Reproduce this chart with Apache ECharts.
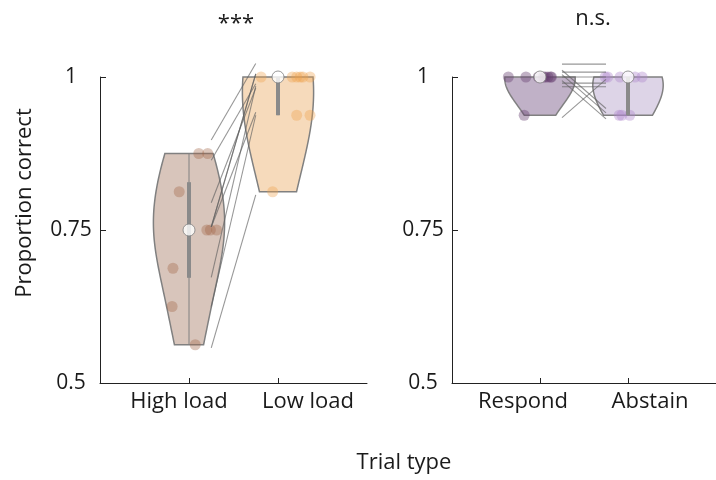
<!DOCTYPE html>
<html>
<head>
<meta charset="utf-8">
<script src="https://cdn.jsdelivr.net/npm/echarts@6/dist/echarts.min.js"></script>
<style>
  html, body { margin: 0; padding: 0; background: #ffffff; }
  #chart { width: 716px; height: 480px; }
</style>
</head>
<body>
<div id="chart"></div>
<script>
// Trial-type labels of the two panels
const loadCategories = ['High load', 'Low load'];
const responseCategories = ['Respond', 'Abstain'];

// Proportion correct per participant (same participant order within a panel)
const highLoad = [0.875, 0.875, 0.8125, 0.75, 0.75, 0.75, 0.6875, 0.625, 0.5625];
const lowLoad  = [1, 1, 1, 1, 1, 0.9375, 1, 0.9375, 0.8125];
const respond  = [1, 1, 1, 1, 1, 1, 1, 1, 0.9375];
const abstain  = [1, 1, 1, 1, 1, 0.9375, 0.9375, 0.9375, 1];

// Horizontal scatter of each dot around its category centre (x units)
const highLoadJitter = [0.11, 0.21, -0.11, 0.2, 0.24, 0.31, -0.18, -0.19, 0.07];
const lowLoadJitter  = [-0.19, 0.16, 0.21, 0.25, 0.28, 0.21, 0.36, 0.36, -0.06];
const respondJitter  = [-0.36, -0.16, -0.02, 0.06, 0.09, 0.12, 0.13, 0.04, -0.18];
const abstainJitter  = [-0.26, -0.09, 0.0, 0.08, 0.16, -0.1, -0.07, 0.02, -0.23];

// Small vertical offsets that keep the paired lines apart
const loadLineOffset     = [0.022, -0.011, -0.018, 0.005, 0.005, 0.005, -0.015, 0, -0.005];
const responseLineOffset = [0.021, 0.008, 0, -0.01, -0.016, 0.011, 0.004, -0.006, -0.004];

// Y axis ticks
const yTicks = [0.5, 0.75, 1];

const FONT = '"Open Sans", "Noto Sans", sans-serif';
const GREY = '#808080';
const TEXT = '#1a1a1a';
const VIOLIN_WIDTH = 0.4;

// ---------- statistics helpers ----------
function sortNum(a) { return a.slice().sort((p, q) => p - q); }
function mean(a) { return a.reduce((s, v) => s + v, 0) / a.length; }
function median(a) {
  const s = sortNum(a), n = s.length;
  return n % 2 ? s[(n - 1) / 2] : (s[n / 2 - 1] + s[n / 2]) / 2;
}
function quantile(a, p) {
  const s = sortNum(a), n = s.length;
  const pos = n * p + 0.5;
  if (pos <= 1) return s[0];
  if (pos >= n) return s[n - 1];
  const lo = Math.floor(pos), f = pos - lo;
  return s[lo - 1] + f * (s[lo] - s[lo - 1]);
}
// Normal-reference bandwidth on a robust spread estimate
// (larger of the median- and mean-based absolute deviations; range as fallback)
function kdeBandwidth(a) {
  const med = median(a), mu = mean(a);
  const madMed = median(a.map(v => Math.abs(v - med)));
  const madMean = mean(a.map(v => Math.abs(v - mu)));
  let sig = Math.max(madMed, madMean) / 0.6745;
  if (madMed <= 0) sig = Math.max(sig, Math.max(...a) - Math.min(...a));
  return sig * Math.pow(4 / (3 * a.length), 0.2);
}
function violinProfile(a) {
  const h = kdeBandwidth(a);
  const lo = Math.min(...a), hi = Math.max(...a);
  const steps = 60, prof = [];
  for (let i = 0; i <= steps; i++) {
    const y = lo + (hi - lo) * i / steps;
    let d = 0;
    a.forEach(v => { const u = (y - v) / h; d += Math.exp(-0.5 * u * u); });
    prof.push([y, d]);
  }
  const m = Math.max(...prof.map(p => p[1]));
  return prof.map(p => [p[0], p[1] / m * VIOLIN_WIDTH]);
}
function boxStats(a) {
  const q1 = quantile(a, 0.25), q3 = quantile(a, 0.75), iqr = q3 - q1;
  const loW = Math.min(...a.filter(v => v >= q1 - 1.5 * iqr));
  const hiW = Math.max(...a.filter(v => v <= q3 + 1.5 * iqr));
  return { q1, q3, med: median(a), loW, hiW };
}

// ---------- panel description ----------
const panels = [
  {
    cats: loadCategories,
    groups: [
      { values: highLoad, jitter: highLoadJitter, fill: '#d8c5bb', dot: 'rgba(160,100,70,0.45)' },
      { values: lowLoad,  jitter: lowLoadJitter,  fill: '#f6dabb', dot: 'rgba(238,160,75,0.45)' }
    ],
    offsets: loadLineOffset,
    labelPad: [[0, 20, 0, 0], [0, 0, 0, 60]]
  },
  {
    cats: responseCategories,
    groups: [
      { values: respond, jitter: respondJitter, fill: '#c0b1c7', dot: 'rgba(100,60,110,0.5)' },
      { values: abstain, jitter: abstainJitter, fill: '#ddd4e7', dot: 'rgba(175,135,205,0.5)' }
    ],
    offsets: responseLineOffset,
    labelPad: [[0, 34, 0, 0], [0, 0, 0, 44]]
  }
];

const grids = [
  { left: 100, top: 77, width: 267, height: 306 },
  { left: 452, top: 77, width: 268, height: 306 }
];

const xAxes = [], yAxes = [], series = [];

panels.forEach((panel, pi) => {
  const rich = {};
  panel.cats.forEach((c, ci) => {
    rich['c' + ci] = { fontFamily: FONT, fontSize: 22, color: TEXT, padding: panel.labelPad[ci] };
  });
  xAxes.push({
    type: 'value', gridIndex: pi, min: 0, max: 3,
    axisLine: { show: true, onZero: false, lineStyle: { color: '#222', width: 1 } },
    axisTick: { show: true, inside: true, length: 5, customValues: [1, 2], lineStyle: { color: '#222' } },
    axisLabel: {
      customValues: [1, 2], margin: 8,
      formatter: v => '{c' + (v - 1) + '|' + panel.cats[v - 1] + '}',
      rich: rich
    },
    splitLine: { show: false }
  });
  yAxes.push({
    type: 'value', gridIndex: pi, min: 0.5, max: 1, interval: 0.25,
    axisLine: { show: true, onZero: false, lineStyle: { color: '#222', width: 1 } },
    axisTick: { show: true, inside: true, length: 6, lineStyle: { color: '#222' } },
    axisLabel: {
      margin: pi === 0 ? 29 : 29, align: 'center',
      fontFamily: FONT, fontSize: 21, color: TEXT,
      formatter: v => String(v)
    },
    splitLine: { show: false }
  });

  const prof = panel.groups.map(g => violinProfile(g.values));
  const stats = panel.groups.map(g => boxStats(g.values));

  // violin bodies
  series.push({
    type: 'custom', xAxisIndex: pi, yAxisIndex: pi, z: 1, clip: false,
    data: panel.groups.map((g, gi) => [gi + 1, stats[gi].med]),
    renderItem: (params, api) => {
      const gi = params.dataIndex, x0 = gi + 1, p = prof[gi];
      const pts = [];
      p.forEach(([y, w]) => pts.push(api.coord([x0 + w, y])));
      for (let i = p.length - 1; i >= 0; i--) pts.push(api.coord([x0 - p[i][1], p[i][0]]));
      return {
        type: 'polygon', shape: { points: pts },
        style: { fill: panel.groups[gi].fill, stroke: GREY, lineWidth: 1.5 }
      };
    }
  });

  // individual participants
  panel.groups.forEach((g, gi) => {
    series.push({
      type: 'scatter', xAxisIndex: pi, yAxisIndex: pi, z: 2, clip: false,
      symbolSize: 11, silent: true,
      itemStyle: { color: g.dot, borderWidth: 0 },
      data: g.values.map((v, k) => [gi + 1 + g.jitter[k], v])
    });
  });

  // whiskers and interquartile bars
  series.push({
    type: 'custom', xAxisIndex: pi, yAxisIndex: pi, z: 3, clip: false,
    data: stats.map((s, gi) => [gi + 1, s.med]),
    renderItem: (params, api) => {
      const gi = params.dataIndex, s = stats[gi], x0 = gi + 1;
      const w1 = api.coord([x0, s.loW]), w2 = api.coord([x0, s.hiW]);
      const b1 = api.coord([x0, s.q1]), b2 = api.coord([x0, s.q3]);
      return {
        type: 'group', children: [
          { type: 'line', shape: { x1: w1[0], y1: w1[1], x2: w2[0], y2: w2[1] }, style: { stroke: GREY, lineWidth: 1 } },
          { type: 'line', shape: { x1: b1[0], y1: b1[1], x2: b2[0], y2: b2[1] }, style: { stroke: '#8a8a8a', lineWidth: 4 } }
        ]
      };
    }
  });

  // lines joining each participant across conditions
  const a = panel.groups[0].values, b = panel.groups[1].values;
  series.push({
    type: 'custom', xAxisIndex: pi, yAxisIndex: pi, z: 4, clip: false,
    data: a.map((v, k) => [1.25, v + panel.offsets[k], 1.75, b[k] + panel.offsets[k]]),
    renderItem: (params, api) => {
      const p1 = api.coord([api.value(0), api.value(1)]);
      const p2 = api.coord([api.value(2), api.value(3)]);
      return {
        type: 'line', shape: { x1: p1[0], y1: p1[1], x2: p2[0], y2: p2[1] },
        style: { stroke: 'rgba(95,95,95,0.65)', lineWidth: 1.1 }
      };
    }
  });

  // medians
  series.push({
    type: 'scatter', xAxisIndex: pi, yAxisIndex: pi, z: 5, clip: false,
    symbolSize: 12, silent: true,
    itemStyle: { color: '#ffffff', borderColor: GREY, borderWidth: 1 },
    data: stats.map((s, gi) => [gi + 1, s.med])
  });
});

const chart = echarts.init(document.getElementById('chart'), null, { renderer: 'canvas' });
chart.setOption({
  animation: false,
  backgroundColor: '#ffffff',
  grid: grids,
  xAxis: xAxes,
  yAxis: yAxes,
  series: series,
  graphic: [
    { type: 'text', x: 25, y: 203, rotation: Math.PI / 2,
      style: { text: 'Proportion correct', fontFamily: FONT, fontSize: 22, fill: TEXT, align: 'center', verticalAlign: 'middle' } },
    { type: 'text', x: 404, y: 463,
      style: { text: 'Trial type', fontFamily: FONT, fontSize: 22, fill: TEXT, align: 'center', verticalAlign: 'middle' } },
    { type: 'text', x: 236, y: 24,
      style: { text: '***', fontFamily: FONT, fontSize: 22, fill: TEXT, align: 'center', verticalAlign: 'middle' } },
    { type: 'text', x: 593, y: 19,
      style: { text: 'n.s.', fontFamily: FONT, fontSize: 22, fill: TEXT, align: 'center', verticalAlign: 'middle' } }
  ]
});
</script>
</body>
</html>
